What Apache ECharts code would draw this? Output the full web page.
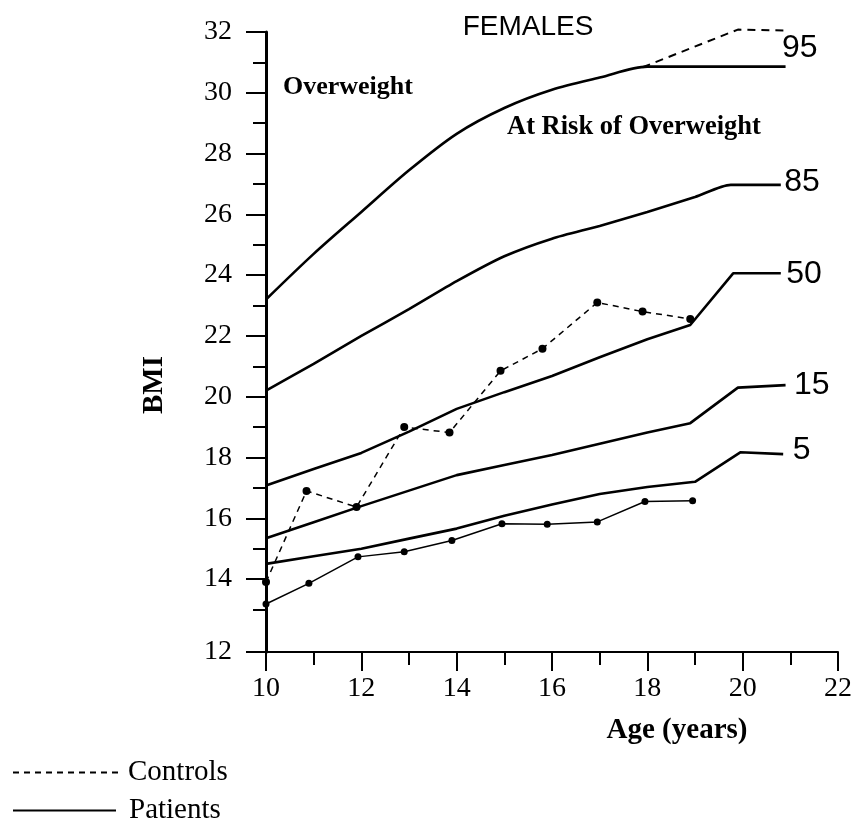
<!DOCTYPE html>
<html><head><meta charset="utf-8">
<script src="https://cdn.jsdelivr.net/npm/echarts@6/dist/echarts.min.js"></script>
<style>html,body{margin:0;padding:0;background:#fff}#c{width:855px;height:818px}</style>
</head><body><div id="c"></div>
<script>
// ---- text ----
const chartTitle = 'FEMALES';
const zoneUpper = 'Overweight';
const zoneMiddle = 'At Risk of Overweight';
const yName = 'BMI';
const xName = 'Age (years)';
const legendNames = ['Controls', 'Patients'];

// ---- axis ticks ----
const xMin = 10, xMax = 22, xStep = 2;
// the original's baseline (labelled 12) sits a little below a linear 12
const yBase = 11.6, yMax = 32;
const yTickValues = [yBase, 14, 16, 18, 20, 22, 24, 26, 28, 30, 32];
const yTickLabels = ['12', '14', '16', '18', '20', '22', '24', '26', '28', '30', '32'];
const yMinorTicks = [13, 15, 17, 19, 21, 23, 25, 27, 29, 31];

// ---- percentile reference curves ----
const p95Age = [10, 11, 12, 13, 14, 15, 16, 17, 18, 20.9];
const p95Bmi = [23.2, 24.7, 26.08, 27.45, 28.65, 29.5, 30.1, 30.5, 30.86, 30.86];
const p95AltAge = [17.9, 19.9, 20.9];
const p95AltBmi = [30.84, 32.08, 32.05];
const p85Age = [10, 11, 12, 13, 14, 15, 16, 17, 18, 19, 19.75, 20.8];
const p85Bmi = [20.2, 21.08, 22.0, 22.88, 23.8, 24.62, 25.2, 25.62, 26.08, 26.57, 26.97, 26.97];
const p50Age = [10, 11, 12, 13, 14, 15, 16, 17, 18, 18.9, 19.8, 20.8];
const p50Bmi = [17.08, 17.62, 18.15, 18.85, 19.6, 20.15, 20.68, 21.3, 21.89, 22.36, 24.06, 24.06];
const p15Age = [10, 11, 12, 13, 14, 15, 16, 17, 18, 18.9, 19.9, 20.9];
const p15Bmi = [15.34, 15.87, 16.4, 16.91, 17.42, 17.75, 18.08, 18.45, 18.82, 19.13, 20.3, 20.38];
const p5Age = [10, 11, 12, 13, 14, 15, 16, 17, 18, 19, 19.95, 20.85];
const p5Bmi = [14.5, 14.75, 15.0, 15.33, 15.66, 16.08, 16.45, 16.8, 17.03, 17.2, 18.17, 18.11];

// ---- study groups ----
const controlsAge = [10, 10.85, 11.9, 12.9, 13.85, 14.92, 15.8, 16.95, 17.9, 18.9];
const controlsBmi = [13.9, 16.9, 16.37, 19.0, 18.82, 20.85, 21.58, 23.1, 22.8, 22.56];
const patientsAge = [10, 10.9, 11.93, 12.9, 13.9, 14.95, 15.9, 16.95, 17.95, 18.95];
const patientsBmi = [13.18, 13.86, 14.73, 14.9, 15.27, 15.82, 15.8, 15.88, 16.55, 16.58];

const SERIF = '"Liberation Serif", "Times New Roman", serif';
const SANS = '"Liberation Sans", Arial, sans-serif';

function zip(a, b) { return a.map((v, i) => [v, b[i]]); }

function curve(name, ages, bmis, label, dist, off, extra) {
  const s = {
    name: name, type: 'line', data: zip(ages, bmis),
    symbol: 'none', clip: false, silent: true,
    lineStyle: { color: '#000', width: 2.6 }
  };
  if (label) {
    s.markPoint = {
      symbol: 'rect', symbolSize: 1, silent: true,
      itemStyle: { color: 'rgba(0,0,0,0)' },
      label: { show: true, position: 'right', distance: dist, offset: off, formatter: label,
               color: '#000', fontFamily: SANS, fontSize: 32 },
      data: [{ coord: [ages[ages.length - 1], bmis[bmis.length - 1]] }]
    };
  }
  return Object.assign(s, extra || {});
}

function legendItem(name, top, width, padLeft) {
  return {
    orient: 'vertical', left: 12, top: top, padding: 0,
    itemWidth: width, itemHeight: 2, selectedMode: false,
    itemStyle: { opacity: 0 },
    data: [name],
    textStyle: { fontFamily: SERIF, fontSize: 29, color: '#000', padding: [0, 0, 0, padLeft] }
  };
}

const chart = echarts.init(document.getElementById('c'), null, { renderer: 'canvas' });
chart.setOption({
  animation: false,
  backgroundColor: '#fff',
  grid: { left: 266, right: 15, top: 32, bottom: 166 },
  xAxis: {
    type: 'value', min: xMin, max: xMax, interval: xStep,
    axisLine: { onZero: false, lineStyle: { color: '#000', width: 2 } },
    axisTick: { length: 19, lineStyle: { color: '#000', width: 2 } },
    minorTick: { show: true, splitNumber: 2, length: 13, lineStyle: { color: '#000', width: 2 } },
    axisLabel: { margin: 23, fontFamily: SERIF, fontSize: 28, color: '#000' },
    splitLine: { show: false }, minorSplitLine: { show: false }
  },
  yAxis: [{
    type: 'value', min: yBase, max: yMax,
    axisLine: { show: true, lineStyle: { color: '#000', width: 3 } },
    axisTick: { show: true, customValues: yTickValues, length: 20, lineStyle: { color: '#000', width: 2 } },
    axisLabel: { customValues: yTickValues, margin: 34, fontFamily: SERIF, fontSize: 28, color: '#000',
                 formatter: v => yTickLabels[yTickValues.indexOf(v)] },
    splitLine: { show: false }
  }, {
    type: 'value', min: yBase, max: yMax, position: 'left',
    axisLine: { show: false }, axisLabel: { show: false }, splitLine: { show: false },
    axisTick: { show: true, customValues: yMinorTicks, length: 13, lineStyle: { color: '#000', width: 2 } }
  }],
  legend: [legendItem(legendNames[0], 758, 110, 0), legendItem(legendNames[1], 796, 103, 8)],
  graphic: [
    { type: 'text', x: 528, y: 27, silent: true,
      style: { text: chartTitle, font: '28px ' + SANS, fill: '#000', align: 'center', verticalAlign: 'middle' } },
    { type: 'text', x: 283, y: 87, silent: true,
      style: { text: zoneUpper, font: 'bold 26px ' + SERIF, fill: '#000', align: 'left', verticalAlign: 'middle' } },
    { type: 'text', x: 507, y: 127, silent: true,
      style: { text: zoneMiddle, font: 'bold 26.5px ' + SERIF, fill: '#000', align: 'left', verticalAlign: 'middle' } },
    { type: 'text', x: 155, y: 385, rotation: Math.PI / 2, silent: true,
      style: { text: yName, font: 'bold 29px ' + SERIF, fill: '#000', align: 'center', verticalAlign: 'middle' } },
    { type: 'text', x: 677, y: 731, silent: true,
      style: { text: xName, font: 'bold 29px ' + SERIF, fill: '#000', align: 'center', verticalAlign: 'middle' } }
  ],
  series: [
    curve('95th', p95Age, p95Bmi, '95', 0, [-4, -18], { smooth: 0.3 }),
    curve('95th (alt)', p95AltAge, p95AltBmi, null, 0, null,
          { lineStyle: { color: '#000', width: 2, type: [8, 6] } }),
    curve('85th', p85Age, p85Bmi, '85', 3, [0, -3], { smooth: 0.25 }),
    curve('50th', p50Age, p50Bmi, '50', 5, [0, 1]),
    curve('15th', p15Age, p15Bmi, '15', 8, [0, 0]),
    curve('5th', p5Age, p5Bmi, '5', 9, [0, -4]),
    {
      name: legendNames[0], type: 'line', data: zip(controlsAge, controlsBmi),
      symbol: 'circle', symbolSize: 8, showSymbol: true, clip: false, silent: true,
      lineStyle: { color: '#000', width: 1.5, type: [6, 5] }, itemStyle: { color: '#000' }, z: 3
    },
    {
      name: legendNames[1], type: 'line', data: zip(patientsAge, patientsBmi),
      symbol: 'circle', symbolSize: 7, showSymbol: true, clip: false, silent: true,
      lineStyle: { color: '#000', width: 1.5 }, itemStyle: { color: '#000' }, z: 3
    }
  ]
});
</script>
</body></html>
